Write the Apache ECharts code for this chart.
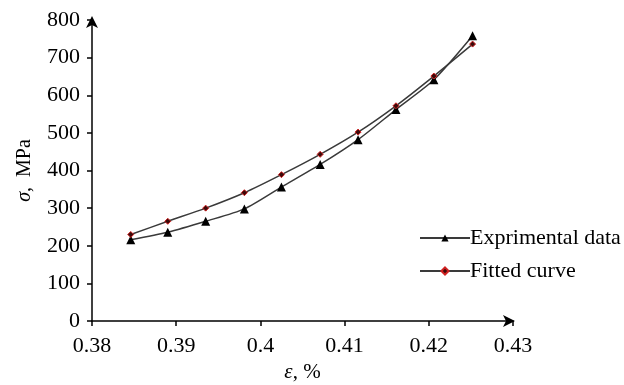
<!DOCTYPE html>
<html>
<head>
<meta charset="utf-8">
<script src="https://cdn.jsdelivr.net/npm/echarts@6/dist/echarts.min.js"></script>
<style>
  html, body { margin: 0; padding: 0; background: #fff; }
  #chart { width: 624px; height: 385px; }
</style>
</head>
<body>
<div id="chart"></div>
<script>
// strain (%)
var strain = [0.3846, 0.3890, 0.3935, 0.3981, 0.4025, 0.4071, 0.4116, 0.4161, 0.4206, 0.4252]
// stress, MPa
var experimental = [216, 236, 265, 298, 356, 416, 482, 562, 641, 758]
var fitted = [230, 265, 300, 341, 389, 443, 502, 572, 651, 736]

var font = 'Liberation Serif'

function pairs (xs, ys) {
  return xs.map(function (x, i) { return [x, ys[i]] })
}

var chart = echarts.init(document.getElementById('chart'))

chart.setOption({
  animation: false,
  grid: { left: 92, right: 111, top: 20, bottom: 64, outerBoundsMode: 'none', containLabel: false },
  legend: {
    left: 419,
    top: 227,
    padding: 0,
    orient: 'vertical',
    itemWidth: 50,
    itemHeight: 9,
    itemGap: 11,
    textStyle: { fontFamily: font, fontSize: 22, color: '#000', padding: [0, 0, 0, -5] },
    data: ['Exprimental data', 'Fitted curve']
  },
  xAxis: {
    type: 'value',
    min: 0.38,
    max: 0.43,
    interval: 0.01,
    name: '{i|ε}, %',
    nameLocation: 'middle',
    nameGap: 41,
    nameTextStyle: {
      fontFamily: font, fontSize: 21, color: '#000',
      rich: { i: { fontFamily: font, fontSize: 21, fontStyle: 'italic', color: '#000' } }
    },
    axisLine: { symbol: ['none', 'arrow'], symbolSize: [9, 12], symbolOffset: [0, 2], lineStyle: { color: '#000', width: 1.5 } },
    axisTick: { show: true, length: 5, lineStyle: { color: '#000', width: 1.5 } },
    axisLabel: {
      fontFamily: font, fontSize: 22, color: '#000', margin: 14,
      formatter: function (v) { return String(+v.toFixed(2)) }
    },
    splitLine: { show: false }
  },
  yAxis: {
    type: 'value',
    min: 0,
    max: 800,
    interval: 100,
    name: '{i|σ},  MPa',
    nameLocation: 'middle',
    nameGap: 57,
    nameRotate: 90,
    nameTextStyle: {
      fontFamily: font, fontSize: 20, color: '#000',
      rich: { i: { fontFamily: font, fontSize: 20, fontStyle: 'italic', color: '#000' } }
    },
    axisLine: { show: true, symbol: ['none', 'arrow'], symbolSize: [9, 12], symbolOffset: [0, 4], lineStyle: { color: '#000', width: 1.5 } },
    axisTick: { show: true, length: 5, lineStyle: { color: '#000', width: 1.5 } },
    axisLabel: { fontFamily: font, fontSize: 22, color: '#000', margin: 12 },
    splitLine: { show: false }
  },
  series: [
    {
      name: 'Exprimental data',
      type: 'line',
      data: pairs(strain, experimental),
      smooth: 0.25,
      symbol: 'triangle',
      symbolSize: 9,
      lineStyle: { color: '#3a3a3a', width: 1.5 },
      itemStyle: { color: '#000' }
    },
    {
      name: 'Fitted curve',
      type: 'line',
      data: pairs(strain, fitted),
      smooth: 0.25,
      symbol: 'diamond',
      symbolSize: 6,
      lineStyle: { color: '#3a3a3a', width: 1.5 },
      itemStyle: { color: '#3a0a0a', borderColor: '#d02020', borderWidth: 1 }
    }
  ]
})
</script>
</body>
</html>
